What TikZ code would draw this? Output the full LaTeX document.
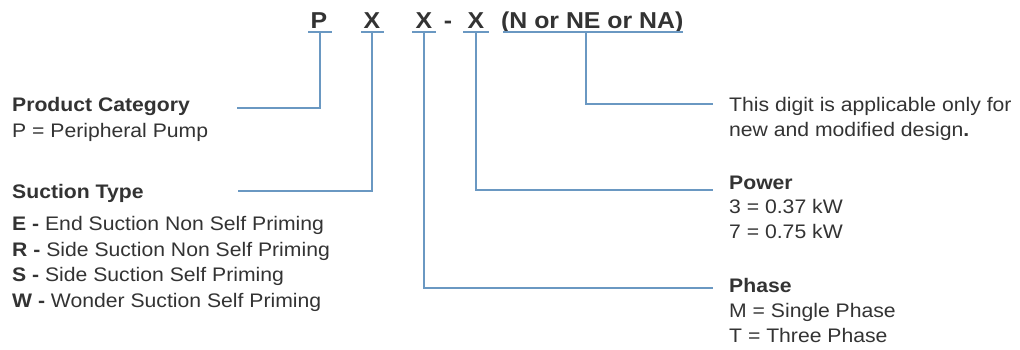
\documentclass[tikz,border=0pt]{standalone}
\usepackage{fontspec}
\setmainfont{Liberation Sans}[FakeStretch=1.08]
\definecolor{txt}{HTML}{333333}
\definecolor{ln}{HTML}{6A98C2}
\begin{document}
\begin{tikzpicture}[x=1pt,y=-1pt,
  codetxt/.style={font=\fontsize{23}{27}\selectfont\bfseries,text=txt,inner sep=0pt,anchor=base},
  lbl/.style={font=\fontsize{19.6}{24}\selectfont,text=txt,inner sep=0pt,anchor=base west},
  hd/.style={lbl,font=\fontsize{19.6}{24}\selectfont\bfseries},
  conn/.style={draw=ln,line width=1.6pt},
  uline/.style={draw=ln,line width=1.6pt}]
\useasboundingbox (0,0) rectangle (1020,349);
% code letters
\node[codetxt] (cP) at (319,28) {P};
\node[codetxt] (cX1) at (372,28) {X};
\node[codetxt] (cX2) at (424,28) {X};
\node[codetxt] (cD) at (448,28) {-};
\node[codetxt] (cX3) at (476,28) {X};
\node[codetxt,anchor=base west] (cN) at (501,28) {(N or NE or NA)};
% underlines
\coordinate (uP) at (320,32);
\coordinate (uX1) at (372,32);
\coordinate (uX2) at (424,32);
\coordinate (uX3) at (476,32);
\coordinate (uN) at (586,32);
\draw[uline] (308,32) -- (332,32);
\draw[uline] (361,32) -- (384,32);
\draw[uline] (412,32) -- (436,32);
\draw[uline] (463,32) -- (489,32);
\draw[uline] (503,32) -- (683,32);
% left labels
\node[hd] (pc) at (12,111) {Product Category};
\node[lbl] (pc1) at (12,137) {P = Peripheral Pump};
\node[hd] (st) at (12,198) {Suction Type};
\node[lbl] (st1) at (12,230) {\textbf{E -} End Suction Non Self Priming};
\node[lbl] (st2) at (12,256) {\textbf{R -} Side Suction Non Self Priming};
\node[lbl] (st3) at (12,281) {\textbf{S -} Side Suction Self Priming};
\node[lbl] (st4) at (12,307) {\textbf{W -} Wonder Suction Self Priming};
% right labels
\node[lbl] (dg1) at (729,111) {This digit is applicable only for};
\node[lbl] (dg2) at (729,136) {new and modified design\textbf{.}};
\node[hd] (pw) at (729,189) {Power};
\node[lbl] (pw1) at (729,213) {3 = 0.37 kW};
\node[lbl] (pw2) at (729,238) {7 = 0.75 kW};
\node[hd] (ph) at (729,292) {Phase};
\node[lbl] (ph1) at (729,317) {M = Single Phase};
\node[lbl] (ph2) at (729,342) {T = Three Phase};
% connector ends
\coordinate (ePC) at (237,108);
\coordinate (eST) at (238,191);
\coordinate (eDG) at (713,104);
\coordinate (ePW) at (713,190);
\coordinate (ePH) at (713,288);
% connectors
\draw[conn] (uP) |- (ePC);
\draw[conn] (uX1) |- (eST);
\draw[conn] (uX2) |- (ePH);
\draw[conn] (uX3) |- (ePW);
\draw[conn] (uN) |- (eDG);
\end{tikzpicture}
\end{document}
